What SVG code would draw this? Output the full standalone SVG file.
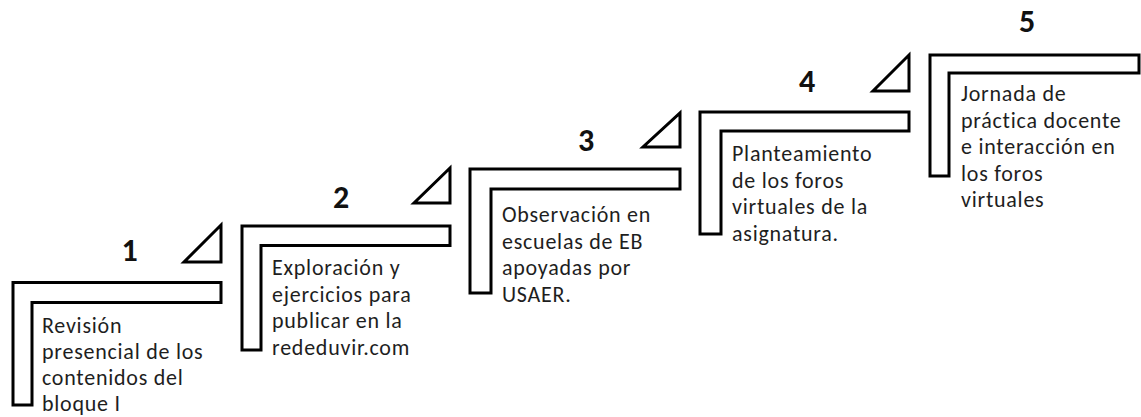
<svg xmlns="http://www.w3.org/2000/svg" width="1141" height="417" viewBox="0 0 1141 417">
<style>
.frame{fill:#fff;stroke:#000;stroke-width:3;stroke-linejoin:miter}
.tri{fill:#fff;stroke:#000;stroke-width:3;stroke-linejoin:miter}
.num{font-family:Carlito,Lato,"Liberation Sans",sans-serif;font-weight:bold;font-size:32px;fill:#111;text-anchor:middle}
.txt{font-family:Carlito,Lato,"Liberation Sans",sans-serif;font-size:22px;letter-spacing:0.75px;fill:#1e1e1e}
</style>
<rect width="1141" height="417" fill="#fff"/>
<g id="step1">
<path class="frame" d="M13 282.5H221V302.5H32V405H13Z"/>
<path class="tri" d="M221 225V262H184Z"/>
<text class="num" x="129.5" y="261">1</text>
<text class="txt"><tspan x="42" y="333">Revisión</tspan><tspan x="42" y="359">presencial de los</tspan><tspan x="42" y="385">contenidos del</tspan><tspan x="42" y="411">bloque I</tspan></text>
</g>
<g id="step2">
<path class="frame" d="M242 226H450V245.5H261V350H242Z"/>
<path class="tri" d="M450 168V203H414Z"/>
<text class="num" x="341" y="208">2</text>
<text class="txt"><tspan x="272" y="275">Exploración y</tspan><tspan x="272" y="301.5">ejercicios para</tspan><tspan x="272" y="328">publicar en la</tspan><tspan x="272" y="354.5">rededuvir.com</tspan></text>
</g>
<g id="step3">
<path class="frame" d="M470 169H680V189H491V293H470Z"/>
<path class="tri" d="M680 113V147H643Z"/>
<text class="num" x="586" y="151">3</text>
<text class="txt"><tspan x="502" y="222">Observación en</tspan><tspan x="502" y="248.5">escuelas de EB</tspan><tspan x="502" y="275">apoyadas por</tspan><tspan x="502" y="301.5">USAER.</tspan></text>
</g>
<g id="step4">
<path class="frame" d="M700 112H909V131H721V234H700Z"/>
<path class="tri" d="M909 55V91H873Z"/>
<text class="num" x="807" y="92">4</text>
<text class="txt"><tspan x="732" y="161">Planteamiento</tspan><tspan x="732" y="187.5">de los foros</tspan><tspan x="732" y="214">virtuales de la</tspan><tspan x="732" y="240.5">asignatura.</tspan></text>
</g>
<g id="step5">
<path class="frame" d="M930 55H1139V73H949V176H930Z"/>
<text class="num" x="1027" y="32">5</text>
<text class="txt"><tspan x="961" y="101">Jornada de</tspan><tspan x="961" y="127.5">práctica docente</tspan><tspan x="961" y="154">e interacción en</tspan><tspan x="961" y="180.5">los foros</tspan><tspan x="961" y="207">virtuales</tspan></text>
</g>
</svg>
